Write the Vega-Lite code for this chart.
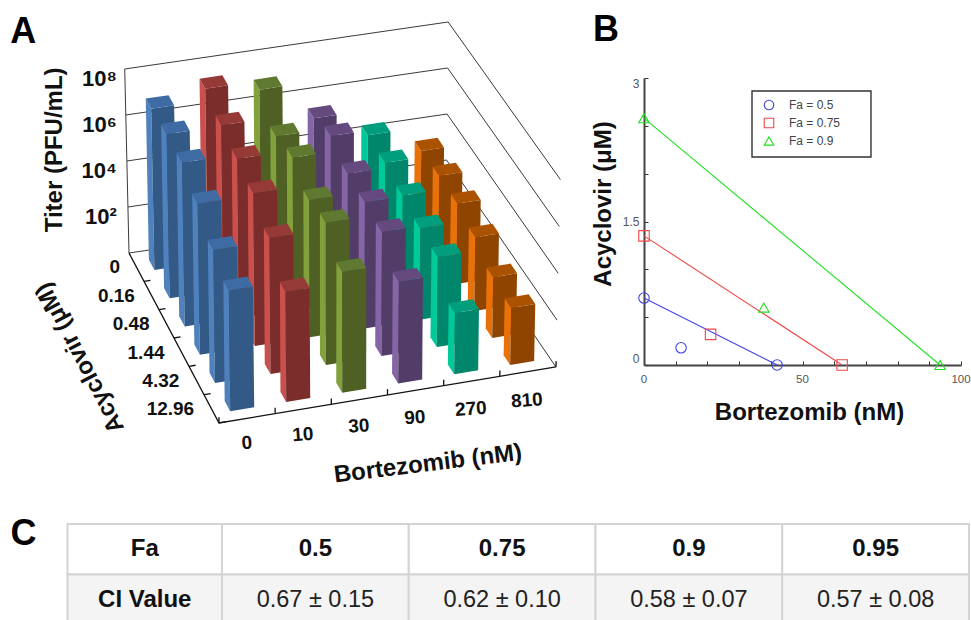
{
"$schema":"https://vega.github.io/schema/vega-lite/v6.json",
"width":971,"height":620,"autosize":"none","padding":0,"background":"white",
"config":{"view":{"stroke":null},"font":"Liberation Sans","text":{"font":"Liberation Sans"}},
"datasets":{
"titer":[
{"bortezomib":0,"acyclovir":0,"log10Titer":7.0},{"bortezomib":10,"acyclovir":0,"log10Titer":7.52},{"bortezomib":30,"acyclovir":0,"log10Titer":7.13},{"bortezomib":90,"acyclovir":0,"log10Titer":5.54},{"bortezomib":270,"acyclovir":0,"log10Titer":4.46},{"bortezomib":810,"acyclovir":0,"log10Titer":3.43},
{"bortezomib":0,"acyclovir":0.16,"log10Titer":7.1},{"bortezomib":10,"acyclovir":0.16,"log10Titer":7.13},{"bortezomib":30,"acyclovir":0.16,"log10Titer":6.3},{"bortezomib":90,"acyclovir":0.16,"log10Titer":5.95},{"bortezomib":270,"acyclovir":0.16,"log10Titer":4.43},{"bortezomib":810,"acyclovir":0.16,"log10Titer":3.51},
{"bortezomib":0,"acyclovir":0.48,"log10Titer":7.07},{"bortezomib":10,"acyclovir":0.48,"log10Titer":6.87},{"bortezomib":30,"acyclovir":0.48,"log10Titer":6.55},{"bortezomib":90,"acyclovir":0.48,"log10Titer":5.5},{"bortezomib":270,"acyclovir":0.48,"log10Titer":4.18},{"bortezomib":810,"acyclovir":0.48,"log10Titer":3.47},
{"bortezomib":0,"acyclovir":1.44,"log10Titer":6.5},{"bortezomib":10,"acyclovir":1.44,"log10Titer":6.57},{"bortezomib":30,"acyclovir":1.44,"log10Titer":5.9},{"bortezomib":90,"acyclovir":1.44,"log10Titer":5.43},{"bortezomib":270,"acyclovir":1.44,"log10Titer":3.94},{"bortezomib":810,"acyclovir":1.44,"log10Titer":3.17},
{"bortezomib":0,"acyclovir":4.32,"log10Titer":5.7},{"bortezomib":10,"acyclovir":4.32,"log10Titer":5.84},{"bortezomib":30,"acyclovir":4.32,"log10Titer":6.1},{"bortezomib":90,"acyclovir":4.32,"log10Titer":5.32},{"bortezomib":270,"acyclovir":4.32,"log10Titer":3.86},{"bortezomib":810,"acyclovir":4.32,"log10Titer":2.61},
{"bortezomib":0,"acyclovir":12.96,"log10Titer":5.16},{"bortezomib":10,"acyclovir":12.96,"log10Titer":4.72},{"bortezomib":30,"acyclovir":12.96,"log10Titer":5.17},{"bortezomib":90,"acyclovir":12.96,"log10Titer":4.35},{"bortezomib":270,"acyclovir":12.96,"log10Titer":2.62},{"bortezomib":810,"acyclovir":12.96,"log10Titer":2.44}
],
"frame":[
{"kind":"wall","g":"z8","s":0,"u":0,"v":0,"z":8},{"kind":"wall","g":"z8","s":1,"u":6,"v":0,"z":8},{"kind":"wall","g":"z8","s":2,"u":6,"v":6,"z":8},
{"kind":"wall","g":"z6","s":0,"u":0,"v":0,"z":6},{"kind":"wall","g":"z6","s":1,"u":6,"v":0,"z":6},{"kind":"wall","g":"z6","s":2,"u":6,"v":6,"z":6},
{"kind":"wall","g":"z4","s":0,"u":0,"v":0,"z":4},{"kind":"wall","g":"z4","s":1,"u":6,"v":0,"z":4},{"kind":"wall","g":"z4","s":2,"u":6,"v":6,"z":4},
{"kind":"wall","g":"z2","s":0,"u":0,"v":0,"z":2},{"kind":"wall","g":"z2","s":1,"u":6,"v":0,"z":2},{"kind":"wall","g":"z2","s":2,"u":6,"v":6,"z":2},
{"kind":"wall","g":"z0","s":0,"u":0,"v":0,"z":0},{"kind":"wall","g":"z0","s":1,"u":6,"v":0,"z":0},{"kind":"wall","g":"z0","s":2,"u":6,"v":6,"z":0},
{"kind":"wall","g":"corner","s":0,"u":0,"v":0,"z":0},{"kind":"wall","g":"corner","s":1,"u":0,"v":0,"z":8},
{"kind":"axis","g":"edge","s":0,"u":0,"v":0,"z":0},{"kind":"axis","g":"edge","s":1,"u":0,"v":6,"z":0},{"kind":"axis","g":"edge","s":2,"u":6,"v":6,"z":0},
{"kind":"axis","g":"a1","s":0,"u":0,"v":1,"z":0},{"kind":"axis","g":"a1","s":1,"u":0.12,"v":1,"z":0},
{"kind":"axis","g":"a2","s":0,"u":0,"v":2,"z":0},{"kind":"axis","g":"a2","s":1,"u":0.12,"v":2,"z":0},
{"kind":"axis","g":"a3","s":0,"u":0,"v":3,"z":0},{"kind":"axis","g":"a3","s":1,"u":0.12,"v":3,"z":0},
{"kind":"axis","g":"a4","s":0,"u":0,"v":4,"z":0},{"kind":"axis","g":"a4","s":1,"u":0.12,"v":4,"z":0},
{"kind":"axis","g":"a5","s":0,"u":0,"v":5,"z":0},{"kind":"axis","g":"a5","s":1,"u":0.12,"v":5,"z":0},
{"kind":"axis","g":"a6","s":0,"u":0,"v":6,"z":0},{"kind":"axis","g":"a6","s":1,"u":0.12,"v":6,"z":0},
{"kind":"axis","g":"b0","s":0,"u":0,"v":6,"z":0},{"kind":"axis","g":"b0","s":1,"u":0,"v":6,"z":0.25},
{"kind":"axis","g":"b1","s":0,"u":1,"v":6,"z":0},{"kind":"axis","g":"b1","s":1,"u":1,"v":6,"z":0.25},
{"kind":"axis","g":"b2","s":0,"u":2,"v":6,"z":0},{"kind":"axis","g":"b2","s":1,"u":2,"v":6,"z":0.25},
{"kind":"axis","g":"b3","s":0,"u":3,"v":6,"z":0},{"kind":"axis","g":"b3","s":1,"u":3,"v":6,"z":0.25},
{"kind":"axis","g":"b4","s":0,"u":4,"v":6,"z":0},{"kind":"axis","g":"b4","s":1,"u":4,"v":6,"z":0.25},
{"kind":"axis","g":"b5","s":0,"u":5,"v":6,"z":0},{"kind":"axis","g":"b5","s":1,"u":5,"v":6,"z":0.25},
{"kind":"axis","g":"b6","s":0,"u":6,"v":6,"z":0},{"kind":"axis","g":"b6","s":1,"u":6,"v":6,"z":0.25}
],
"iso":[
{"fa":"Fa = 0.5","kind":"fit","bortezomib":0,"acyclovir":0.7},{"fa":"Fa = 0.5","kind":"fit","bortezomib":42,"acyclovir":0},{"fa":"Fa = 0.5","kind":"measured","bortezomib":11.7,"acyclovir":0.18},
{"fa":"Fa = 0.75","kind":"fit","bortezomib":0,"acyclovir":1.35},{"fa":"Fa = 0.75","kind":"fit","bortezomib":62.5,"acyclovir":0},{"fa":"Fa = 0.75","kind":"measured","bortezomib":21,"acyclovir":0.32},
{"fa":"Fa = 0.9","kind":"fit","bortezomib":0,"acyclovir":2.58},{"fa":"Fa = 0.9","kind":"fit","bortezomib":93.4,"acyclovir":0},{"fa":"Fa = 0.9","kind":"measured","bortezomib":37.8,"acyclovir":0.6}
],
"cells":[
{"col":0,"row":0,"text":"Fa"},{"col":1,"row":0,"text":"0.5"},{"col":2,"row":0,"text":"0.75"},{"col":3,"row":0,"text":"0.9"},{"col":4,"row":0,"text":"0.95"},
{"col":0,"row":1,"text":"CI Value"},{"col":1,"row":1,"text":"0.67 ± 0.15"},{"col":2,"row":1,"text":"0.62 ± 0.10"},{"col":3,"row":1,"text":"0.58 ± 0.07"},{"col":4,"row":1,"text":"0.57 ± 0.08"}
]
},
"layer":[
{"encoding":{
  "x":{"field":"px","type":"quantitative","scale":{"domain":[0,971],"range":[0,971],"nice":false},"axis":null},
  "y":{"field":"py","type":"quantitative","scale":{"domain":[0,620],"range":[0,620],"nice":false},"axis":null}},
"layer":[
{"data":{"name":"frame"},
 "transform":[{"filter":"datum.kind=='wall'"},
  {"calculate":"129+15*datum.v+(317+3.33*datum.v)*datum.u/6","as":"bx"},
  {"calculate":"253+28.33*datum.v-(47+1.5*datum.v)*datum.u/6","as":"by"},
  {"calculate":"datum.z*(23+0.07*datum.v)","as":"h"},
  {"calculate":"datum.bx+(datum.bx-340)*0.00011*datum.h","as":"px"},
  {"calculate":"datum.by-datum.h","as":"py"}],
 "mark":{"type":"line","stroke":"#3a3a3a","strokeWidth":1},
 "encoding":{"detail":{"field":"g"},"order":{"field":"s"}}},
{"data":{"name":"frame"},
 "transform":[{"filter":"datum.kind=='axis'"},
  {"calculate":"129+15*datum.v+(317+3.33*datum.v)*datum.u/6","as":"bx"},
  {"calculate":"253+28.33*datum.v-(47+1.5*datum.v)*datum.u/6","as":"by"},
  {"calculate":"datum.z*(23+0.07*datum.v)","as":"h"},
  {"calculate":"datum.bx+(datum.bx-340)*0.00011*datum.h","as":"px"},
  {"calculate":"datum.by-datum.h","as":"py"}],
 "mark":{"type":"line","stroke":"#111111","strokeWidth":1.3},
 "encoding":{"detail":{"field":"g"},"order":{"field":"s"}}},
{"data":{"name":"titer"},
 "transform":[
  {"calculate":"[0,1,2]","as":"face"},{"flatten":["face"]},
  {"calculate":"indexof([0,10,30,90,270,810],datum.bortezomib)+0.5","as":"u"},
  {"calculate":"indexof([0,0.16,0.48,1.44,4.32,12.96],datum.acyclovir)+0.5","as":"v"},
  {"calculate":"129+15*datum.v+(317+3.33*datum.v)*datum.u/6","as":"px"},
  {"calculate":"253+28.33*datum.v-(47+1.5*datum.v)*datum.u/6","as":"py"},
  {"calculate":"(317+3.33*datum.v)/6*0.215","as":"ex"},
  {"calculate":"-(47+1.5*datum.v)/6*0.215","as":"ey"},
  {"calculate":"(15+0.555*datum.u)*0.18","as":"fx"},
  {"calculate":"(28.33-0.25*datum.u)*0.18","as":"fy"},
  {"calculate":"datum.log10Titer*(23+0.07*datum.v)","as":"h"},
  {"calculate":"(datum.px-340)*0.00011*datum.h","as":"tx"},
  {"calculate":"(-datum.ex-datum.fx)+' '+(-datum.ey-datum.fy)","as":"bl"},
  {"calculate":"(-datum.ex+datum.fx)+' '+(-datum.ey+datum.fy)","as":"fl"},
  {"calculate":"(datum.ex+datum.fx)+' '+(datum.ey+datum.fy)","as":"fr"},
  {"calculate":"(-datum.ex-datum.fx+datum.tx)+' '+(-datum.ey-datum.fy-datum.h)","as":"blt"},
  {"calculate":"(-datum.ex+datum.fx+datum.tx)+' '+(-datum.ey+datum.fy-datum.h)","as":"flt"},
  {"calculate":"(datum.ex+datum.fx+datum.tx)+' '+(datum.ey+datum.fy-datum.h)","as":"frt"},
  {"calculate":"(datum.ex-datum.fx+datum.tx)+' '+(datum.ey-datum.fy-datum.h)","as":"brt"},
  {"calculate":"datum.face==0?'M'+datum.bl+'L'+datum.fl+'L'+datum.flt+'L'+datum.blt+'Z':datum.face==1?'M'+datum.fl+'L'+datum.fr+'L'+datum.frt+'L'+datum.flt+'Z':'M'+datum.blt+'L'+datum.brt+'L'+datum.frt+'L'+datum.flt+'Z'","as":"facePath"},
  {"calculate":"datum.bortezomib+'-'+datum.face","as":"faceKey"},
  {"calculate":"datum.v*100+datum.u+datum.face/10","as":"paint"}
 ],
 "mark":{"type":"point","filled":true,"size":4,"opacity":1},
 "encoding":{
  "shape":{"field":"facePath","type":"nominal","scale":null,"legend":null},
  "order":{"field":"paint"},
  "fill":{"field":"faceKey","type":"nominal","legend":null,"scale":{
   "domain":["0-0","0-1","0-2","10-0","10-1","10-2","30-0","30-1","30-2","90-0","90-1","90-2","270-0","270-1","270-2","810-0","810-1","810-2"],
   "range":["#4f81bd","#335a87","#3e6ba3","#c9504d","#7b2d2c","#963a38","#82a03c","#4e6024","#5f7a30","#8465a6","#523c68","#654a80","#00c99a","#00866a","#009e7c","#e8710a","#8f4500","#ab5200"]}}}},
{"data":{"values":[{"label":"10⁸","z":8},{"label":"10⁶","z":6},{"label":"10⁴","z":4},{"label":"10²","z":2}]},
 "transform":[{"calculate":"129+317*(-0.23)/6","as":"px"},{"calculate":"253+47*0.23/6-(datum.z-0.35)*23","as":"py"}],
 "mark":{"type":"text","align":"right","baseline":"middle","fontSize":22,"fontWeight":"bold","color":"#111"},
 "encoding":{"text":{"field":"label"}}},
{"data":{"values":[{"label":"0","i":0},{"label":"0.16","i":1},{"label":"0.48","i":2},{"label":"1.44","i":3},{"label":"4.32","i":4},{"label":"12.96","i":5}]},
 "transform":[{"calculate":"datum.i+0.5","as":"v"},
  {"calculate":"129+15*datum.v+(317+3.33*datum.v)*(-0.31)/6","as":"px"},
  {"calculate":"253+28.33*datum.v+(47+1.5*datum.v)*0.31/6-2.3","as":"py"}],
 "mark":{"type":"text","align":"right","baseline":"middle","fontSize":19,"fontWeight":"bold","color":"#111"},
 "encoding":{"text":{"field":"label"}}},
{"data":{"values":[{"label":"0","i":0},{"label":"10","i":1},{"label":"30","i":2},{"label":"90","i":3},{"label":"270","i":4},{"label":"810","i":5}]},
 "transform":[{"calculate":"datum.i*0.98+0.28","as":"u"},{"calculate":"6.8+0.03*datum.i","as":"v"},
  {"calculate":"129+15*datum.v+(317+3.33*datum.v)*datum.u/6","as":"px"},
  {"calculate":"253+28.33*datum.v-(47+1.5*datum.v)*datum.u/6","as":"py"}],
 "mark":{"type":"text","align":"center","baseline":"middle","fontSize":19,"fontWeight":"bold","color":"#111","angle":356},
 "encoding":{"text":{"field":"label"}}},
{"data":{"values":[{"label":"Titer (PFU/mL)","u":-1.4,"v":0,"z":4.96}]},
 "transform":[{"calculate":"129+15*datum.v+(317+3.33*datum.v)*datum.u/6","as":"px"},{"calculate":"253+28.33*datum.v-(47+1.5*datum.v)*datum.u/6-datum.z*(23+0.07*datum.v)","as":"py"}],
 "mark":{"type":"text","align":"center","baseline":"middle","fontSize":24,"fontWeight":"bold","color":"#111","angle":270},
 "encoding":{"text":{"field":"label"}}},
{"data":{"values":[{"label":"Acyclovir (μM)","u":-1.85,"v":3.5,"z":0.45}]},
 "transform":[{"calculate":"129+15*datum.v+(317+3.33*datum.v)*datum.u/6","as":"px"},{"calculate":"253+28.33*datum.v-(47+1.5*datum.v)*datum.u/6-datum.z*(23+0.07*datum.v)","as":"py"}],
 "mark":{"type":"text","align":"center","baseline":"middle","fontSize":24,"fontWeight":"bold","color":"#111","angle":242.5},
 "encoding":{"text":{"field":"label"}}},
{"data":{"values":[{"label":"Bortezomib (nM)","u":2.98,"v":8.5,"z":0}]},
 "transform":[{"calculate":"129+15*datum.v+(317+3.33*datum.v)*datum.u/6","as":"px"},{"calculate":"253+28.33*datum.v-(47+1.5*datum.v)*datum.u/6-datum.z*(23+0.07*datum.v)","as":"py"}],
 "mark":{"type":"text","align":"center","baseline":"middle","fontSize":24,"fontWeight":"bold","color":"#111","angle":353},
 "encoding":{"text":{"field":"label"}}},
{"data":{"values":[{"label":"A","u":-2.0,"v":0,"z":10.3}]},
 "transform":[{"calculate":"129+15*datum.v+(317+3.33*datum.v)*datum.u/6","as":"px"},{"calculate":"253+28.33*datum.v-(47+1.5*datum.v)*datum.u/6-datum.z*(23+0.07*datum.v)","as":"py"}],
 "mark":{"type":"text","align":"center","baseline":"middle","fontSize":36,"fontWeight":"bold","color":"#000"},
 "encoding":{"text":{"field":"label"}}}
]},
{"encoding":{
  "x":{"field":"bortezomib","type":"quantitative","scale":{"domain":[0,100],"range":[644,961],"nice":false},
   "axis":{"orient":"bottom","offset":-255,"title":"Bortezomib (nM)","titleFontSize":24,"titleFontWeight":"bold","titleFont":"Liberation Sans","titleColor":"#111","titleX":809,"titleY":35,
    "values":[0,10,20,30,40,50,60,70,80,90,100],"labelExpr":"datum.value==0?'0':datum.value==50?'50':datum.value==100?'100':''","tickSize":-4,"tickColor":"#333","domainColor":"#444","domainWidth":2,"labelColor":"#555","labelFontSize":11.5,"labelFont":"Liberation Sans","labelPadding":12,"labelOverlap":false,"labelFlush":false,"labelOffset":-0.5,"grid":false}},
  "y":{"field":"acyclovir","type":"quantitative","scale":{"domain":[0,3],"range":[365,78],"nice":false},
   "axis":{"orient":"left","offset":-644,"title":"Acyclovir (μM)","titleFontSize":24,"titleFontWeight":"bold","titleFont":"Liberation Sans","titleColor":"#111","titleY":203.5,"titleX":-29,
    "values":[0,0.5,1,1.5,2,2.5,3],"labelExpr":"datum.value==0?'0':datum.value==1.5?'1.5':datum.value==3?'3':''","tickSize":-4,"tickColor":"#333","domainColor":"#444","domainWidth":2,"labelColor":"#555","labelFontSize":12,"labelFont":"Liberation Sans","labelPadding":9,"labelFlush":true,"labelOverlap":false,"grid":false}}},
"layer":[
{"data":{"values":[{"left":34.07,"right":71.6,"top":2.864,"bottom":2.174}]},
 "mark":{"type":"rect","fill":"white","stroke":"#333333","strokeWidth":1.4},
 "encoding":{"x":{"field":"left","type":"quantitative"},"x2":{"field":"right"},"y":{"field":"top","type":"quantitative"},"y2":{"field":"bottom"}}},
{"data":{"name":"iso"},"transform":[{"filter":"datum.kind=='fit'"}],
 "mark":{"type":"line","strokeWidth":1.1},
 "encoding":{
  "color":{"field":"fa","type":"nominal","scale":{"domain":["Fa = 0.5","Fa = 0.75","Fa = 0.9"],"range":["#4444e0","#f04848","#22e022"]}},
  "detail":{"field":"fa"}}},
{"data":{"name":"iso"},
 "mark":{"type":"point","filled":false,"strokeWidth":1.1,"opacity":1,"size":110},
 "encoding":{
  "color":{"field":"fa","type":"nominal","scale":{"domain":["Fa = 0.5","Fa = 0.75","Fa = 0.9"],"range":["#4444e0","#f04848","#22e022"]},
   "legend":{"orient":"none","legendX":752,"legendY":91,"title":null,"padding":8,"labelFontSize":12,"labelFont":"Liberation Sans","labelColor":"#444","symbolSize":90,"symbolStrokeWidth":1.1,"symbolOffset":3,"rowPadding":4,"labelOffset":14}},
  "shape":{"field":"fa","type":"nominal","scale":{"domain":["Fa = 0.5","Fa = 0.75","Fa = 0.9"],"range":["circle","square","triangle-up"]}}}},
{"data":{"values":[{"label":"B","bortezomib":-12,"acyclovir":3.5}]},
 "mark":{"type":"text","align":"center","baseline":"middle","fontSize":36,"fontWeight":"bold","color":"#000"},
 "encoding":{"text":{"field":"label"}}}
]},
{"layer":[
{"data":{"name":"cells"},"transform":[{"calculate":"datum.col+1","as":"colEnd"},{"calculate":"datum.row+1","as":"rowEnd"}],
 "mark":{"type":"rect","stroke":"#d4d4d4","strokeWidth":2},
 "encoding":{
  "x":{"field":"col","type":"quantitative","scale":{"domain":[0,1,5],"range":[67.5,222,969],"nice":false},"axis":null},"x2":{"field":"colEnd"},
  "y":{"field":"row","type":"quantitative","scale":{"domain":[0,2],"range":[524,625],"nice":false},"axis":null},"y2":{"field":"rowEnd"},
  "fill":{"field":"row","type":"nominal","legend":null,"scale":{"domain":[0,1],"range":["#ffffff","#f4f4f4"]}}}},
{"data":{"name":"cells"},"transform":[{"filter":"datum.row==0||datum.col==0"},{"calculate":"datum.col+0.5","as":"cx"},{"calculate":"datum.row+0.5","as":"cy"}],
 "mark":{"type":"text","align":"center","baseline":"middle","fontSize":24,"fontWeight":"bold","color":"#111"},
 "encoding":{"x":{"field":"cx","type":"quantitative","scale":{"domain":[0,1,5],"range":[67.5,222,969],"nice":false},"axis":null},"y":{"field":"cy","type":"quantitative","scale":{"domain":[0,2],"range":[524,625],"nice":false},"axis":null},"text":{"field":"text"}}},
{"data":{"name":"cells"},"transform":[{"filter":"datum.row>0&&datum.col>0"},{"calculate":"datum.col+0.5","as":"cx"},{"calculate":"datum.row+0.5","as":"cy"}],
 "mark":{"type":"text","align":"center","baseline":"middle","fontSize":23.5,"color":"#222"},
 "encoding":{"x":{"field":"cx","type":"quantitative","scale":{"domain":[0,1,5],"range":[67.5,222,969],"nice":false},"axis":null},"y":{"field":"cy","type":"quantitative","scale":{"domain":[0,2],"range":[524,625],"nice":false},"axis":null},"text":{"field":"text"}}},
{"data":{"values":[{"label":"C","col":-0.285,"row":0.2}]},
 "mark":{"type":"text","align":"center","baseline":"middle","fontSize":36,"fontWeight":"bold","color":"#000"},
 "encoding":{"x":{"field":"col","type":"quantitative","scale":{"domain":[0,1,5],"range":[67.5,222,969],"nice":false},"axis":null},"y":{"field":"row","type":"quantitative","scale":{"domain":[0,2],"range":[524,625],"nice":false},"axis":null},"text":{"field":"label"}}}
]}
],
"resolve":{"scale":{"x":"independent","y":"independent","color":"independent","fill":"independent","shape":"independent"},"axis":{"x":"independent","y":"independent"},"legend":{"color":"independent","fill":"independent","shape":"independent"}}
}
